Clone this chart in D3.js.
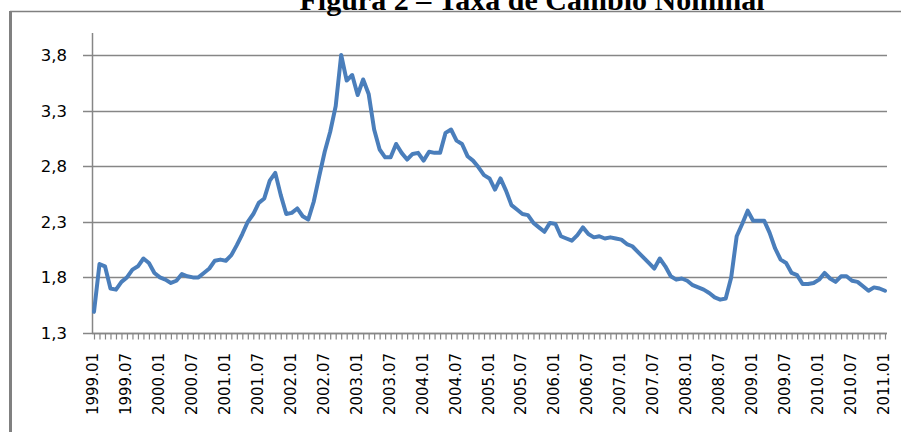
<!DOCTYPE html>
<html>
<head>
<meta charset="utf-8">
<script src="https://cdn.jsdelivr.net/npm/d3@7/dist/d3.min.js"></script>
<style>
  html, body { margin: 0; padding: 0; background: #fff; }
  #chart { width: 901px; height: 432px; overflow: hidden; }
</style>
</head>
<body>
<div id="chart"></div>
<script>
// taxa de câmbio nominal, médias mensais 1999.01 - 2011.01
const years = d3.range(1999, 2012);
const months = ['01','02','03','04','05','06','07','08','09','10','11','12'];
const categories = [];
years.forEach(y => months.forEach(m => { if (y < 2011 || m === '01') categories.push(y + '.' + m); }));

const rate1999 = [1.49, 1.92, 1.90, 1.70, 1.69, 1.76, 1.80, 1.87, 1.90, 1.97, 1.93, 1.84];
const rate2000 = [1.80, 1.78, 1.75, 1.77, 1.83, 1.81, 1.80, 1.80, 1.84, 1.88, 1.95, 1.96];
const rate2001 = [1.95, 2.00, 2.09, 2.19, 2.30, 2.37, 2.47, 2.51, 2.67, 2.74, 2.54, 2.37];
const rate2002 = [2.38, 2.42, 2.35, 2.32, 2.48, 2.71, 2.93, 3.11, 3.34, 3.80, 3.57, 3.62];
const rate2003 = [3.44, 3.58, 3.45, 3.13, 2.95, 2.88, 2.88, 3.00, 2.92, 2.86, 2.91, 2.92];
const rate2004 = [2.85, 2.93, 2.92, 2.92, 3.10, 3.13, 3.03, 3.00, 2.89, 2.85, 2.79, 2.72];
const rate2005 = [2.69, 2.59, 2.69, 2.58, 2.45, 2.41, 2.37, 2.36, 2.29, 2.25, 2.21, 2.29];
const rate2006 = [2.28, 2.17, 2.15, 2.13, 2.18, 2.25, 2.19, 2.16, 2.17, 2.15, 2.16, 2.15];
const rate2007 = [2.14, 2.10, 2.08, 2.03, 1.98, 1.93, 1.88, 1.97, 1.90, 1.81, 1.78, 1.79];
const rate2008 = [1.77, 1.73, 1.71, 1.69, 1.66, 1.62, 1.60, 1.61, 1.80, 2.17, 2.28, 2.40];
const rate2009 = [2.31, 2.31, 2.31, 2.20, 2.06, 1.96, 1.93, 1.84, 1.82, 1.74, 1.74, 1.75];
const rate2010 = [1.78, 1.84, 1.79, 1.76, 1.81, 1.81, 1.77, 1.76, 1.72, 1.68, 1.71, 1.70];
const rate2011 = [1.68];

const rates = [].concat(rate1999, rate2000, rate2001, rate2002, rate2003, rate2004,
  rate2005, rate2006, rate2007, rate2008, rate2009, rate2010, rate2011);

const yTicks = [1.3, 1.8, 2.3, 2.8, 3.3, 3.8];
const xLabels = categories.filter((c, i) => i % 6 === 0);
const title = 'Figura 2 – Taxa de Câmbio Nominal';

const data = categories.map((c, i) => ({ cat: c, v: rates[i] }));

const W = 901, H = 432;
const svg = d3.select('#chart').append('svg')
  .attr('width', W)
  .attr('height', H);

const plotL = 92, plotR = 887, plotT = 33;

const x = d3.scalePoint().domain(categories).range([94, 885]);
const y = d3.scaleLinear().domain([1.3, 3.8]).range([333, 55]);

const gray = '#868686';

// moldura
svg.append('line').attr('x1', 10.5).attr('x2', 10.5).attr('y1', 11).attr('y2', H)
  .attr('stroke', '#808080').attr('stroke-width', 3);
svg.append('line').attr('x1', 10).attr('x2', W).attr('y1', 11.5).attr('y2', 11.5)
  .attr('stroke', '#808080').attr('stroke-width', 1.5);

// titulo (cortado no topo, como no original)
svg.append('text')
  .attr('x', 532).attr('y', 10)
  .attr('text-anchor', 'middle')
  .attr('font-family', '"Liberation Serif", "Times New Roman", serif')
  .attr('font-weight', 'bold')
  .attr('font-size', 30)
  .text(title);

// grade
svg.append('g')
  .selectAll('line')
  .data(yTicks)
  .join('line')
  .attr('x1', 83).attr('x2', plotR)
  .attr('y1', d => Math.round(y(d)) + 0.5).attr('y2', d => Math.round(y(d)) + 0.5)
  .attr('stroke', gray).attr('stroke-width', 1.3);

// eixo y
svg.append('line').attr('x1', plotL + 0.5).attr('x2', plotL + 0.5)
  .attr('y1', plotT).attr('y2', y(1.3))
  .attr('stroke', gray).attr('stroke-width', 1.5);

svg.append('g')
  .selectAll('text')
  .data(yTicks)
  .join('text')
  .attr('x', 67).attr('y', d => y(d))
  .attr('dy', '0.36em')
  .attr('text-anchor', 'end')
  .attr('font-family', '"DejaVu Sans", Verdana, sans-serif')
  .attr('font-size', 16.5)
  .attr('fill', '#000')
  .text(d => d3.format('.1f')(d).replace('.', ','));

// eixo x com marcas mensais
const xAxis = d3.axisBottom(x).tickSize(6).tickFormat('');
const gx = svg.append('g')
  .attr('transform', `translate(0,${Math.round(y(1.3)) + 0.5})`)
  .call(xAxis);
gx.select('.domain').remove();
gx.selectAll('.tick line').attr('stroke', gray).attr('stroke-width', 1.2);
svg.append('line').attr('x1', plotL).attr('x2', plotR)
  .attr('y1', Math.round(y(1.3)) + 0.5).attr('y2', Math.round(y(1.3)) + 0.5)
  .attr('stroke', gray).attr('stroke-width', 1.5);

svg.append('g')
  .selectAll('text')
  .data(xLabels)
  .join('text')
  .attr('transform', d => `translate(${x(d) + 4},353) rotate(-90)`)
  .attr('text-anchor', 'end')
  .attr('font-family', '"DejaVu Sans", Verdana, sans-serif')
  .attr('font-size', 15)
  .attr('fill', '#000')
  .text(d => d);

// serie
const line = d3.line()
  .x(d => x(d.cat))
  .y(d => y(d.v));

svg.append('path')
  .datum(data)
  .attr('d', line)
  .attr('fill', 'none')
  .attr('stroke', '#4a7ebb')
  .attr('stroke-width', 4)
  .attr('stroke-linejoin', 'round')
  .attr('stroke-linecap', 'round');
</script>
</body>
</html>
